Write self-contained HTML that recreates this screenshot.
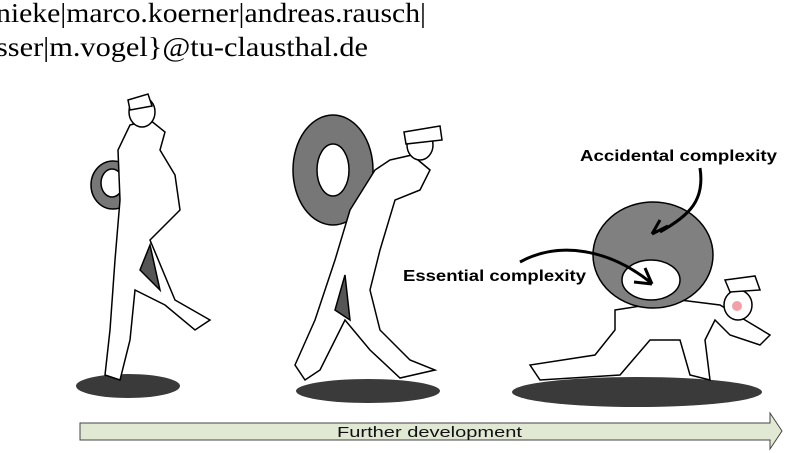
<!DOCTYPE html>
<html><head><style>
html,body{margin:0;padding:0;background:#fff;width:792px;height:453px;overflow:hidden}
</style></head><body>
<svg width="792" height="453" xmlns="http://www.w3.org/2000/svg" style="position:absolute;left:0;top:0">
<text x="-4" y="22" font-family="Liberation Serif, serif" font-size="27" textLength="430" lengthAdjust="spacingAndGlyphs" fill="#000">nieke|marco.koerner|andreas.rausch|</text>
<text x="-4" y="56" font-family="Liberation Serif, serif" font-size="27" textLength="372" lengthAdjust="spacingAndGlyphs" fill="#000">sser|m.vogel}@tu-clausthal.de</text>
<!-- shadows -->
<ellipse cx="128" cy="386" rx="52" ry="12" fill="#3a3a3a"/>
<ellipse cx="368" cy="391" rx="72" ry="12" fill="#3a3a3a"/>
<ellipse cx="637" cy="392" rx="125" ry="15" fill="#3a3a3a"/>
<!-- figure 1 -->
<g stroke="#000" stroke-width="1.5" fill="#fff">
<ellipse cx="113" cy="185" rx="22" ry="24" fill="#777"/>
<ellipse cx="112" cy="183" rx="11" ry="14"/>
<path d="M130 125 L150 120 L165 132 L160 150 L175 175 L180 210 L150 240 L175 300 L210 320 L195 330 L165 305 L135 290 L130 340 L120 380 L105 375 L110 330 L115 260 L120 200 L118 150 Z"/>
<ellipse cx="142" cy="112" rx="13" ry="15"/>
<path d="M128 100 L148 94 L152 106 L130 110 Z"/>
<path d="M150 245 L160 290 L140 270 Z" fill="#555"/>
</g>
<!-- figure 2 -->
<g stroke="#000" stroke-width="1.5" fill="#fff">
<ellipse cx="333" cy="170" rx="40" ry="55" fill="#777"/>
<ellipse cx="333" cy="170" rx="16" ry="26"/>
<path d="M390 160 L412 155 L430 170 L420 190 L395 200 L380 250 L370 290 L380 330 L410 360 L435 370 L400 378 L370 350 L345 320 L320 370 L305 380 L295 365 L315 320 L335 260 L350 210 L375 170 Z"/>
<ellipse cx="420" cy="145" rx="13" ry="15"/>
<path d="M404 132 L440 126 L442 140 L406 144 Z"/>
<path d="M345 275 L350 320 L335 310 Z" fill="#555"/>
</g>
<!-- figure 3 -->
<g stroke="#000" stroke-width="1.5" fill="#fff">
<path d="M615 310 L680 300 L720 305 L745 320 L770 335 L760 345 L730 335 L715 320 L705 340 L710 380 L690 375 L680 340 L650 340 L620 375 L540 380 L530 365 L595 355 L615 330 Z"/>
<ellipse cx="738" cy="305" rx="14" ry="15"/>
<path d="M725 280 L755 276 L760 290 L730 292 Z"/>
<ellipse cx="653" cy="255" rx="60" ry="53" fill="#808080"/>
<ellipse cx="651" cy="280" rx="29" ry="20"/>
</g>
<circle cx="737" cy="306" r="5" fill="#f4a0a8"/>
<!-- labels & curved arrows -->
<path d="M700 168 C705 200 690 215 660 232" stroke="#000" stroke-width="3" fill="none"/>
<path d="M652 234 L668 226 M652 234 L660 220" stroke="#000" stroke-width="3"/>
<path d="M520 262 C560 240 610 250 650 282" stroke="#000" stroke-width="3" fill="none"/>
<path d="M652 284 L634 282 M652 284 L645 268" stroke="#000" stroke-width="3"/>
<text x="580" y="161" font-family="Liberation Sans, sans-serif" font-size="16" font-weight="bold" textLength="197" lengthAdjust="spacingAndGlyphs">Accidental complexity</text>
<text x="403" y="281" font-family="Liberation Sans, sans-serif" font-size="16" font-weight="bold" textLength="183" lengthAdjust="spacingAndGlyphs">Essential complexity</text>
<!-- development arrow -->
<polygon points="80,423 770,423 770,413 782,431 770,449 770,440 80,440" fill="#e1e8d4" stroke="#444" stroke-width="1"/>
<text x="337" y="437" font-family="Liberation Sans, sans-serif" font-size="15" fill="#111" textLength="185" lengthAdjust="spacingAndGlyphs">Further development</text>
</svg>
</body></html>
